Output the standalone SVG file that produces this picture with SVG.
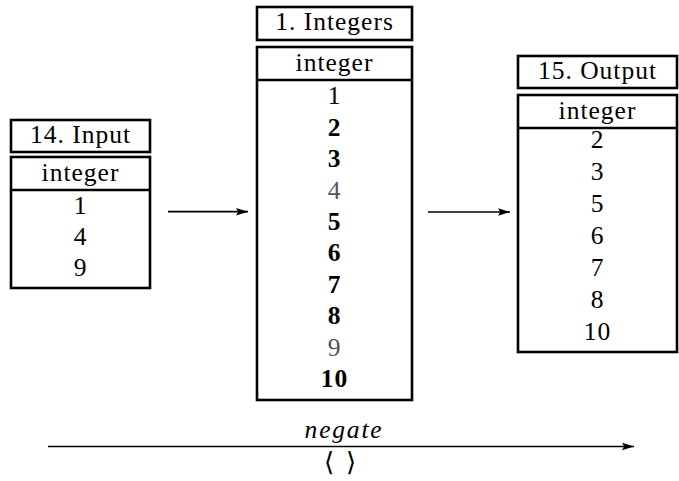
<svg xmlns="http://www.w3.org/2000/svg" width="679" height="481" viewBox="0 0 679 481">
  <defs>
    <style>
      .box { fill: #ffffff; stroke: #000000; stroke-width: 2.6; }
      .sep { stroke: #000000; stroke-width: 2.6; }
      .t { font-family: "Liberation Serif", "Times New Roman", serif; font-size: 25.5px; letter-spacing: 1px; text-anchor: middle; fill: #000000; }
      .b { font-weight: bold; }
      .g { fill: #555555; }
      .conn { stroke: #000000; stroke-width: 1.7; fill: none; }
      .it { font-style: italic; letter-spacing: 1.8px; }
      .br { font-family: "DejaVu Serif", "Liberation Serif", serif; font-size: 26px; text-anchor: middle; }
    </style>
    <marker id="head" markerWidth="13" markerHeight="9" refX="12" refY="4.5" orient="auto" markerUnits="userSpaceOnUse">
      <path d="M0,0.8 L12,4.5 L0,8.2 L2.2,4.5 Z" fill="#000000"/>
    </marker>
  </defs>

  <!-- table 14: Input -->
  <g id="input">
    <rect class="box" x="11" y="120" width="139" height="32"/>
    <text class="t" x="80.5" y="143">14. Input</text>
    <rect class="box" x="11" y="157" width="139" height="131"/>
    <line class="sep" x1="11" y1="190" x2="150" y2="190"/>
    <text class="t" x="80.5" y="181">integer</text>
    <text class="t" x="80.5" y="214">1</text>
    <text class="t" x="80.5" y="245">4</text>
    <text class="t" x="80.5" y="276">9</text>
  </g>

  <!-- table 1: Integers -->
  <g id="integers">
    <rect class="box" x="257" y="7" width="155" height="33"/>
    <text class="t" x="334.5" y="30">1. Integers</text>
    <rect class="box" x="257" y="47" width="155" height="353"/>
    <line class="sep" x1="257" y1="80" x2="412" y2="80"/>
    <text class="t" x="334.5" y="71">integer</text>
    <text class="t" x="334.5" y="104.4">1</text>
    <text class="t b" x="334.5" y="135.8">2</text>
    <text class="t b" x="334.5" y="167.2">3</text>
    <text class="t g" x="334.5" y="198.6">4</text>
    <text class="t b" x="334.5" y="230">5</text>
    <text class="t b" x="334.5" y="261.4">6</text>
    <text class="t b" x="334.5" y="292.8">7</text>
    <text class="t b" x="334.5" y="324.2">8</text>
    <text class="t g" x="334.5" y="355.6">9</text>
    <text class="t b" x="334.5" y="387">10</text>
  </g>

  <!-- table 15: Output -->
  <g id="output">
    <rect class="box" x="518" y="56" width="159" height="32"/>
    <text class="t" x="597.5" y="79">15. Output</text>
    <rect class="box" x="518" y="95" width="159" height="257"/>
    <line class="sep" x1="518" y1="128" x2="677" y2="128"/>
    <text class="t" x="597.5" y="119">integer</text>
    <text class="t" x="597.5" y="148">2</text>
    <text class="t" x="597.5" y="180">3</text>
    <text class="t" x="597.5" y="212">5</text>
    <text class="t" x="597.5" y="244">6</text>
    <text class="t" x="597.5" y="276">7</text>
    <text class="t" x="597.5" y="308">8</text>
    <text class="t" x="597.5" y="340">10</text>
  </g>

  <!-- connectors -->
  <g id="connectors">
    <line class="conn" x1="168" y1="211.7" x2="248" y2="211.7" marker-end="url(#head)"/>
    <line class="conn" x1="428" y1="212" x2="510" y2="212" marker-end="url(#head)"/>
    <line class="conn" x1="48" y1="446.5" x2="634" y2="446.5" marker-end="url(#head)"/>
    <text class="t it" x="344" y="438">negate</text>
    <text class="br" x="329" y="471">⟨</text>
    <text class="br" x="351" y="471">⟩</text>
  </g>
</svg>
